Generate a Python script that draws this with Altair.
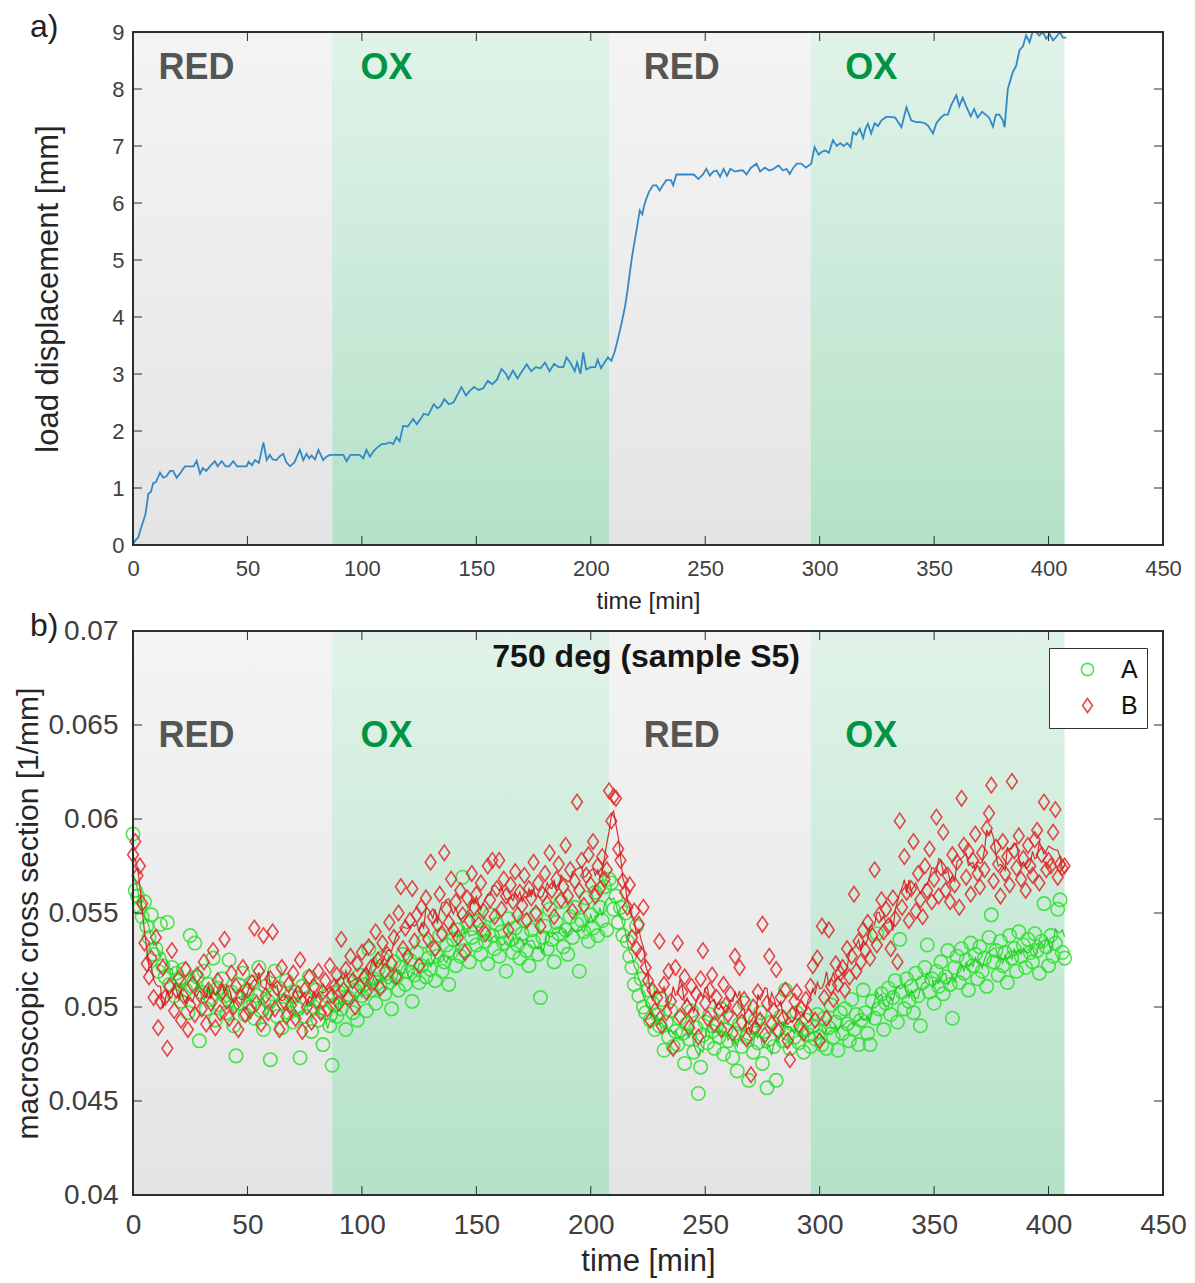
import altair as alt
import pandas as pd

# ---------------- data ----------------
band_start = [0, 87, 208, 296]
band_end = [87, 208, 296, 407]
band_kind = ["RED", "OX", "RED", "OX"]

label_text = ["RED", "OX", "RED", "OX"]
label_t = [27.7, 110.7, 239.7, 322.5]
label_top_v = [8.36, 8.36, 8.36, 8.36]
label_bot_v = [0.0644, 0.0644, 0.0644, 0.0644]

title_b = ["750 deg (sample S5)"]
title_b_t = [224.2]
title_b_v = [0.06862]

x_ticks = [0, 50, 100, 150, 200, 250, 300, 350, 400, 450]
top_y_ticks = [0, 1, 2, 3, 4, 5, 6, 7, 8, 9]
bot_y_ticks = [0.04, 0.045, 0.05, 0.055, 0.06, 0.065, 0.07]

# panel a) load displacement
disp_t = [0, 1, 2.3, 3.5, 4.5, 5.5, 6.7, 7.8, 8.9, 10, 11.8, 13.2, 14.5, 16.2, 17.5, 19.1, 21, 22.7, 25, 26.5,
          27.8, 29.3, 30.5, 32, 33.6, 35.8, 37, 38.7, 40.5, 42, 43.8, 45.5, 47.5, 49.6, 50.5, 52, 53.3, 55, 57, 58.4,
          59.8, 61, 62.7, 64, 65.6, 67, 68.6, 70.5, 72.9, 74.4, 75.8, 77, 78, 79.5, 81, 83.1, 84.5, 86, 88, 90,
          91.9, 93.3, 95, 97, 99, 100.6, 102, 103.5, 105, 106.4, 108.6, 110, 112.2, 113.7, 115.1, 116.5, 118, 120, 122.4, 124,
          125.5, 127, 129, 131.4, 133, 134.5, 136, 138, 140, 142, 143.5, 145.5, 147, 149, 151, 153, 155, 157, 159, 161,
          163, 164, 166, 168, 170, 172, 174, 176, 178, 180, 182, 184, 186, 188, 189.4, 191, 193, 194, 195.5, 196.7,
          198, 200, 202, 203, 204.5, 206, 207.5, 209, 210.5, 212, 213.5, 214.9, 216, 217, 218, 219.2, 220.3, 221.4, 222.5, 223.3,
          224.3, 225.5, 227.2, 228.7, 230.1, 231.5, 233, 235, 236, 237.4, 239, 241, 243, 245, 247, 249, 250.5, 252, 253.5, 255,
          256.5, 258, 259.5, 261, 263, 265, 266.5, 268, 270, 272.4, 274, 276, 278, 280, 282, 284, 285.5, 286.9, 288.5, 290,
          292, 294, 296.3, 297.8, 299.5, 301, 302.5, 304, 305.8, 307.5, 309, 310.5, 312, 313.5, 314.6, 316, 317.5, 319, 320, 321.1,
          322.5, 324, 325.5, 327, 329.1, 331, 333, 335.7, 337.9, 340, 342, 344, 346, 347.5, 349.5, 351, 353, 354.5, 356, 357.5,
          359.7, 361, 362.5, 364, 366, 367.5, 369, 371, 372.5, 374, 375.7, 377, 378.5, 380, 380.8, 382.2, 384.4, 385.8, 387.3, 388.8,
          390.2, 391.7, 393, 394.5, 396, 397.5, 399, 400.5, 402, 403.5, 405, 406.3, 407.8]
disp_v = [0.02, 0.08, 0.13, 0.30, 0.42, 0.55, 0.90, 0.93, 1.09, 1.10, 1.27, 1.18, 1.20, 1.30, 1.30, 1.18, 1.28, 1.38, 1.38, 1.38,
          1.48, 1.25, 1.35, 1.30, 1.38, 1.47, 1.38, 1.47, 1.38, 1.38, 1.47, 1.38, 1.38, 1.38, 1.46, 1.40, 1.49, 1.44, 1.80, 1.49,
          1.58, 1.50, 1.49, 1.55, 1.60, 1.45, 1.38, 1.45, 1.67, 1.49, 1.60, 1.52, 1.57, 1.50, 1.67, 1.49, 1.55, 1.58, 1.58, 1.58,
          1.58, 1.47, 1.58, 1.58, 1.58, 1.52, 1.67, 1.55, 1.64, 1.70, 1.77, 1.77, 1.80, 1.77, 1.89, 1.82, 2.09, 2.08, 2.21, 2.12,
          2.20, 2.30, 2.28, 2.47, 2.40, 2.44, 2.56, 2.47, 2.50, 2.65, 2.77, 2.62, 2.70, 2.77, 2.72, 2.75, 2.88, 2.82, 2.90, 3.09,
          3.00, 2.91, 3.06, 2.92, 3.05, 3.17, 3.05, 3.12, 3.10, 3.20, 3.05, 3.18, 3.12, 3.12, 3.29, 3.20, 3.05, 3.20, 3.00, 3.38,
          3.08, 3.12, 3.12, 3.25, 3.10, 3.20, 3.29, 3.23, 3.40, 3.64, 3.90, 4.17, 4.45, 4.76, 5.05, 5.34, 5.60, 5.87, 5.80, 5.95,
          6.08, 6.20, 6.31, 6.31, 6.22, 6.31, 6.40, 6.40, 6.31, 6.50, 6.50, 6.50, 6.50, 6.50, 6.42, 6.50, 6.60, 6.48, 6.55, 6.57,
          6.46, 6.60, 6.48, 6.60, 6.55, 6.57, 6.57, 6.50, 6.62, 6.69, 6.55, 6.62, 6.57, 6.60, 6.66, 6.57, 6.60, 6.51, 6.62, 6.69,
          6.69, 6.62, 6.69, 6.98, 6.85, 6.90, 6.92, 6.88, 7.10, 7.00, 7.05, 7.00, 7.05, 6.98, 7.24, 7.20, 7.30, 7.14, 7.30, 7.39,
          7.22, 7.40, 7.35, 7.45, 7.51, 7.51, 7.50, 7.33, 7.68, 7.45, 7.42, 7.42, 7.40, 7.35, 7.22, 7.40, 7.50, 7.55, 7.55, 7.72,
          7.89, 7.70, 7.85, 7.70, 7.52, 7.65, 7.50, 7.60, 7.55, 7.50, 7.34, 7.55, 7.55, 7.45, 7.33, 8.00, 8.30, 8.40, 8.68, 8.75,
          8.94, 8.82, 9.00, 9.00, 8.94, 9.00, 8.88, 8.96, 8.85, 8.92, 9.00, 8.90, 8.90]

# panel b) macroscopic cross section, one sample per minute
time_min = list(range(408))
cs_A = [0.0592, 0.0562, 0.0559, 0.0553, 0.0548, 0.0556, 0.0543, 0.0537, 0.0549, 0.0528,
        0.0531, 0.0519, 0.0544, 0.0522, 0.0516, 0.0545, 0.0512, 0.0521, 0.0506, 0.0518,
        0.0514, 0.0503, 0.0520, 0.0509, 0.0497, 0.0538, 0.0511, 0.0534, 0.0516, 0.0482,
        0.0508, 0.0519, 0.0499, 0.0512, 0.0504, 0.0526, 0.0493, 0.0510, 0.0501, 0.0515,
        0.0506, 0.0497, 0.0525, 0.0508, 0.0490, 0.0474, 0.0512, 0.0502, 0.0518, 0.0496,
        0.0509, 0.0500, 0.0513, 0.0494, 0.0506, 0.0521, 0.0498, 0.0488, 0.0511, 0.0503,
        0.0472, 0.0507, 0.0519, 0.0495, 0.0510, 0.0489, 0.0502, 0.0514, 0.0497, 0.0506,
        0.0492, 0.0508, 0.0499, 0.0473, 0.0511, 0.0495, 0.0504, 0.0516, 0.0487, 0.0500,
        0.0509, 0.0493, 0.0503, 0.0480, 0.0497, 0.0506, 0.0490, 0.0469, 0.0501, 0.0495,
        0.0508, 0.0499, 0.0512, 0.0488, 0.0505, 0.0514, 0.0497, 0.0509, 0.0493, 0.0517,
        0.0506, 0.0512, 0.0498, 0.0531, 0.0509, 0.0515, 0.0502, 0.0520, 0.0511, 0.0526,
        0.0507, 0.0518, 0.0513, 0.0499, 0.0524, 0.0516, 0.0509, 0.0521, 0.0528, 0.0512,
        0.0519, 0.0525, 0.0503, 0.0517, 0.0529, 0.0513, 0.0522, 0.0535, 0.0516, 0.0526,
        0.0520, 0.0531, 0.0514, 0.0527, 0.0538, 0.0519, 0.0524, 0.0533, 0.0512, 0.0529,
        0.0536, 0.0522, 0.0541, 0.0527, 0.0569, 0.0530, 0.0545, 0.0524, 0.0537, 0.0552,
        0.0533, 0.0546, 0.0528, 0.0541, 0.0535, 0.0523, 0.0549, 0.0538, 0.0531, 0.0544,
        0.0527, 0.0540, 0.0534, 0.0519, 0.0547, 0.0536, 0.0529, 0.0542, 0.0533, 0.0526,
        0.0539, 0.0546, 0.0530, 0.0522, 0.0541, 0.0535, 0.0549, 0.0528, 0.0505, 0.0537,
        0.0543, 0.0531, 0.0552, 0.0536, 0.0524, 0.0545, 0.0539, 0.0556, 0.0532, 0.0541,
        0.0528, 0.0548, 0.0537, 0.0553, 0.0544, 0.0519, 0.0546, 0.0540, 0.0558, 0.0535,
        0.0549, 0.0542, 0.0561, 0.0538, 0.0553, 0.0546, 0.0564, 0.0541, 0.0568, 0.0566,
        0.0552, 0.0559, 0.0545, 0.0553, 0.0538, 0.0550, 0.0535, 0.0527, 0.0521, 0.0512,
        0.0543, 0.0506, 0.0515, 0.0500, 0.0497, 0.0509, 0.0493, 0.0502, 0.0488, 0.0496,
        0.0490, 0.0504, 0.0477, 0.0492, 0.0484, 0.0498, 0.0479, 0.0487, 0.0480, 0.0494,
        0.0486, 0.0470, 0.0491, 0.0483, 0.0498, 0.0476, 0.0489, 0.0454, 0.0468, 0.0485,
        0.0492, 0.0481, 0.0496, 0.0487, 0.0478, 0.0490, 0.0484, 0.0499, 0.0475, 0.0488,
        0.0482, 0.0494, 0.0473, 0.0486, 0.0466, 0.0491, 0.0479, 0.0502, 0.0484, 0.0461,
        0.0489, 0.0476, 0.0493, 0.0481, 0.0497, 0.0470, 0.0487, 0.0457, 0.0483, 0.0492,
        0.0479, 0.0461, 0.0488, 0.0495, 0.0482, 0.0509, 0.0486, 0.0478, 0.0491, 0.0484,
        0.0497, 0.0481, 0.0488, 0.0476, 0.0493, 0.0485, 0.0479, 0.0490, 0.0483, 0.0496,
        0.0487, 0.0480, 0.0494, 0.0478, 0.0489, 0.0501, 0.0484, 0.0492, 0.0477, 0.0497,
        0.0486, 0.0499, 0.0491, 0.0482, 0.0504, 0.0488, 0.0496, 0.0480, 0.0493, 0.0509,
        0.0497, 0.0486, 0.0480, 0.0503, 0.0494, 0.0539, 0.0499, 0.0507, 0.0488, 0.0502,
        0.0510, 0.0496, 0.0505, 0.0514, 0.0492, 0.0536, 0.0508, 0.0499, 0.0515, 0.0503,
        0.0511, 0.0497, 0.0518, 0.0506, 0.0490, 0.0513, 0.0521, 0.0533, 0.0508, 0.0515,
        0.0502, 0.0519, 0.0511, 0.0524, 0.0507, 0.0516, 0.0530, 0.0512, 0.0494, 0.0521,
        0.0527, 0.0513, 0.0531, 0.0518, 0.0525, 0.0509, 0.0534, 0.0522, 0.0528, 0.0515,
        0.0532, 0.0519, 0.0526, 0.0511, 0.0537, 0.0549, 0.0524, 0.0530, 0.0517, 0.0535,
        0.0522, 0.0529, 0.0513, 0.0538, 0.0526, 0.0531, 0.0519, 0.0540, 0.0527, 0.0533,
        0.0521, 0.0536, 0.0529, 0.0524, 0.0539, 0.0530, 0.0518, 0.0535, 0.0555, 0.0532,
        0.0522, 0.0538, 0.0527, 0.0534, 0.0552, 0.0557, 0.0529, 0.0526]
cs_B = [0.0581, 0.0588, 0.0570, 0.0575, 0.0555, 0.0534, 0.0523, 0.0516, 0.0526, 0.0505,
        0.0537, 0.0489, 0.0503, 0.0521, 0.0505, 0.0478, 0.0511, 0.0530, 0.0498, 0.0509,
        0.0515, 0.0493, 0.0506, 0.0520, 0.0488, 0.0501, 0.0512, 0.0496, 0.0517, 0.0507,
        0.0499, 0.0524, 0.0491, 0.0509, 0.0502, 0.0530, 0.0489, 0.0514, 0.0497, 0.0508,
        0.0536, 0.0503, 0.0494, 0.0518, 0.0500, 0.0511, 0.0488, 0.0505, 0.0521, 0.0496,
        0.0509, 0.0498, 0.0513, 0.0542, 0.0502, 0.0519, 0.0491, 0.0538, 0.0506, 0.0497,
        0.0515, 0.0540, 0.0499, 0.0510, 0.0488, 0.0521, 0.0503, 0.0495, 0.0512, 0.0501,
        0.0518, 0.0494, 0.0507, 0.0525, 0.0487, 0.0509, 0.0500, 0.0516, 0.0492, 0.0511,
        0.0503, 0.0519, 0.0497, 0.0508, 0.0514, 0.0499, 0.0522, 0.0506, 0.0511, 0.0517,
        0.0502, 0.0536, 0.0509, 0.0520, 0.0505, 0.0527, 0.0514, 0.0500, 0.0523, 0.0511,
        0.0529, 0.0516, 0.0508, 0.0532, 0.0521, 0.0513, 0.0540, 0.0525, 0.0510, 0.0534,
        0.0519, 0.0528, 0.0545, 0.0523, 0.0537, 0.0516, 0.0550, 0.0564, 0.0531, 0.0542,
        0.0527, 0.0546, 0.0563, 0.0535, 0.0549, 0.0522, 0.0553, 0.0541, 0.0558, 0.0536,
        0.0577, 0.0548, 0.0531, 0.0544, 0.0560, 0.0539, 0.0582, 0.0552, 0.0545, 0.0568,
        0.0541, 0.0556, 0.0537, 0.0562, 0.0549, 0.0529, 0.0558, 0.0546, 0.0571, 0.0553,
        0.0560, 0.0544, 0.0566, 0.0551, 0.0539, 0.0575, 0.0557, 0.0578, 0.0548, 0.0563,
        0.0578, 0.0552, 0.0568, 0.0559, 0.0541, 0.0565, 0.0556, 0.0572, 0.0549, 0.0561,
        0.0554, 0.0570, 0.0546, 0.0563, 0.0558, 0.0577, 0.0550, 0.0566, 0.0543, 0.0560,
        0.0571, 0.0555, 0.0582, 0.0562, 0.0548, 0.0568, 0.0576, 0.0557, 0.0564, 0.0586,
        0.0559, 0.0573, 0.0551, 0.0567, 0.0609, 0.0562, 0.0578, 0.0554, 0.0570, 0.0581,
        0.0565, 0.0588, 0.0559, 0.0575, 0.0563, 0.0580, 0.0568, 0.0573, 0.0615, 0.0599,
        0.0612, 0.0611, 0.0584, 0.0578, 0.0567, 0.0561, 0.0553, 0.0565, 0.0537, 0.0551,
        0.0531, 0.0544, 0.0528, 0.0553, 0.0521, 0.0514, 0.0493, 0.0509, 0.0498, 0.0505,
        0.0535, 0.0490, 0.0512, 0.0497, 0.0519, 0.0503, 0.0478, 0.0521, 0.0534, 0.0495,
        0.0508, 0.0516, 0.0500, 0.0489, 0.0511, 0.0496, 0.0507, 0.0484, 0.0515, 0.0530,
        0.0502, 0.0494, 0.0509, 0.0517, 0.0491, 0.0505, 0.0498, 0.0488, 0.0512, 0.0501,
        0.0496, 0.0507, 0.0486, 0.0527, 0.0499, 0.0521, 0.0492, 0.0504, 0.0483, 0.0495,
        0.0464, 0.0500, 0.0489, 0.0508, 0.0493, 0.0544, 0.0485, 0.0502, 0.0527, 0.0491,
        0.0498, 0.0520, 0.0487, 0.0505, 0.0494, 0.0509, 0.0482, 0.0472, 0.0496, 0.0503,
        0.0508, 0.0490, 0.0499, 0.0486, 0.0504, 0.0496, 0.0511, 0.0522, 0.0493, 0.0526,
        0.0482, 0.0543, 0.0505, 0.0494, 0.0541, 0.0511, 0.0504, 0.0523, 0.0512, 0.0518,
        0.0521, 0.0509, 0.0531, 0.0516, 0.0527, 0.0560, 0.0519, 0.0535, 0.0524, 0.0541,
        0.0530, 0.0545, 0.0526, 0.0538, 0.0573, 0.0533, 0.0549, 0.0557, 0.0540, 0.0552,
        0.0543, 0.0531, 0.0558, 0.0547, 0.0524, 0.0599, 0.0553, 0.0580, 0.0561, 0.0546,
        0.0563, 0.0588, 0.0551, 0.0571, 0.0557, 0.0548, 0.0575, 0.0562, 0.0584, 0.0556,
        0.0568, 0.0601, 0.0559, 0.0574, 0.0593, 0.0562, 0.0570, 0.0556, 0.0581, 0.0565,
        0.0577, 0.0553, 0.0611, 0.0586, 0.0569, 0.0583, 0.0560, 0.0578, 0.0592, 0.0571,
        0.0564, 0.0582, 0.0573, 0.0595, 0.0603, 0.0618, 0.0567, 0.0585, 0.0576, 0.0559,
        0.0588, 0.0571, 0.0580, 0.0565, 0.0620, 0.0583, 0.0574, 0.0591, 0.0568, 0.0579,
        0.0562, 0.0586, 0.0575, 0.0570, 0.0589, 0.0594, 0.0566, 0.0581, 0.0609, 0.0573,
        0.0578, 0.0575, 0.0593, 0.0605, 0.0569, 0.0576, 0.0574, 0.0575]

series_names = ["A", "B"]
series_colors = ["#2ee22e", "#e22a2a"]
line_colors = ["#22c822", "#d01e1e"]

# ---------------- styling ----------------
W, H1, H2 = 1030, 513, 564
GAP = 86
TICK = 9
FONT = "Liberation Sans"
FRAME = "#2e2e2e"
TXT = "#404040"

gray_grad = alt.LinearGradient(gradient="linear", x1=0, x2=0, y1=0, y2=1,
                               stops=[alt.GradientStop(color="#f4f4f4", offset=0),
                                      alt.GradientStop(color="#e4e4e4", offset=1)])
green_grad = alt.LinearGradient(gradient="linear", x1=0, x2=0, y1=0, y2=1,
                                stops=[alt.GradientStop(color="#e1f3e9", offset=0),
                                       alt.GradientStop(color="#b4e1c8", offset=1)])

bands_df = pd.DataFrame({"start": band_start, "end": band_end, "kind": band_kind})
labels_top_df = pd.DataFrame({"text": label_text, "t": label_t, "v": label_top_v})
labels_bot_df = pd.DataFrame({"text": label_text, "t": label_t, "v": label_bot_v})
xt_df = pd.DataFrame({"tx": x_ticks})
yt_top_df = pd.DataFrame({"ty": top_y_ticks})
yt_bot_df = pd.DataFrame({"ty": bot_y_ticks})
disp_df = pd.DataFrame({"t": disp_t, "v": disp_v})
cs_df = pd.concat([
    pd.DataFrame({"t": time_min, "v": cs_A, "series": series_names[0]}),
    pd.DataFrame({"t": time_min, "v": cs_B, "series": series_names[1]}),
], ignore_index=True)
title_df = pd.DataFrame({"text": title_b, "t": title_b_t, "v": title_b_v})

xscale = alt.Scale(domain=[0, 450], nice=False, zero=False)

ax_x_top = alt.Axis(values=x_ticks, ticks=False, domain=False, grid=False, labelFlush=False,
                    labelFont=FONT, labelFontSize=22, labelColor=TXT, labelPadding=13,
                    title="time [min]", titleFont=FONT, titleFontSize=24, titleFontWeight="normal",
                    titleColor="#262626", titlePadding=10)
ax_y_top = alt.Axis(values=top_y_ticks, ticks=False, domain=False, grid=False, labelFlush=False,
                    labelFont=FONT, labelFontSize=22, labelColor=TXT, labelPadding=9,
                    title="load displacement [mm]", titleFont=FONT, titleFontSize=31,
                    titleFontWeight="normal", titleColor="#262626", titlePadding=47)
ax_x_bot = alt.Axis(values=x_ticks, ticks=False, domain=False, grid=False, labelFlush=False,
                    labelFont=FONT, labelFontSize=28, labelColor=TXT, labelPadding=16,
                    title="time [min]", titleFont=FONT, titleFontSize=31, titleFontWeight="normal",
                    titleColor="#262626", titlePadding=7)
ax_y_bot = alt.Axis(values=bot_y_ticks, format="~g", ticks=False, domain=False, grid=False,
                    labelFlush=False,
                    labelFont=FONT, labelFontSize=28, labelColor=TXT, labelPadding=15,
                    title="macroscopic cross section [1/mm]", titleFont=FONT, titleFontSize=30,
                    titleFontWeight="normal", titleColor="#262626", titlePadding=4)


def xa(field):
    return alt.X(f"{field}:Q", scale=xscale, axis=ax_x_top)


def ya(field):
    return alt.Y(f"{field}:Q", scale=alt.Scale(domain=[0, 9], nice=False, zero=False), axis=ax_y_top)


def xb(field):
    return alt.X(f"{field}:Q", scale=xscale, axis=ax_x_bot)


def yb(field):
    return alt.Y(f"{field}:Q", scale=alt.Scale(domain=[0.04, 0.07], nice=False, zero=False), axis=ax_y_bot)


def bands(xenc, H):
    red = alt.Chart(bands_df).transform_filter(alt.datum.kind == "RED").mark_rect(
        color=gray_grad).encode(x=xenc("start"), x2="end", y=alt.value(0), y2=alt.value(H))
    ox = alt.Chart(bands_df).transform_filter(alt.datum.kind == "OX").mark_rect(
        color=green_grad).encode(x=xenc("start"), x2="end", y=alt.value(0), y2=alt.value(H))
    return [red, ox]


def phase_labels(df, xenc, yenc):
    out = []
    for kind, col in (("RED", "#555555"), ("OX", "#009444")):
        out.append(alt.Chart(df).transform_filter(alt.datum.text == kind).mark_text(
            font=FONT, fontSize=36, fontWeight="bold", color=col, align="center", baseline="middle"
        ).encode(x=xenc("t"), y=yenc("v"), text="text:N"))
    return out


def frame_ticks(xenc, yenc, ydf, H):
    r = dict(color=FRAME, strokeWidth=1)
    xb_t = alt.Chart(xt_df).mark_rule(**r).encode(x=xenc("tx"), y=alt.value(H), y2=alt.value(H - TICK))
    xt_t = alt.Chart(xt_df).mark_rule(**r).encode(x=xenc("tx"), y=alt.value(0), y2=alt.value(TICK))
    yl_t = alt.Chart(ydf).mark_rule(**r).encode(y=yenc("ty"), x=alt.value(0), x2=alt.value(TICK))
    yr_t = alt.Chart(ydf).mark_rule(**r).encode(y=yenc("ty"), x=alt.value(W - TICK), x2=alt.value(W))
    box = alt.Chart(xt_df).mark_rect(filled=False, stroke=FRAME, strokeWidth=1.2).encode(
        x=alt.value(0), x2=alt.value(W), y=alt.value(0), y2=alt.value(H))
    return [xb_t, xt_t, yl_t, yr_t, box]


def tag(text):
    return alt.Chart(pd.DataFrame({"tag": [text]})).mark_text(
        font=FONT, fontSize=32, color="#222222", align="left", baseline="top"
    ).encode(x=alt.value(-103), y=alt.value(-20), text="tag:N")


# ---------------- panel a ----------------
disp_line = alt.Chart(disp_df).mark_line(color="#3389c6", strokeWidth=1.8, clip=True).encode(
    x=xa("t"), y=ya("v"), order="t:Q")

top = alt.layer(
    *bands(xa, H1), disp_line, *phase_labels(labels_top_df, xa, ya),
    *frame_ticks(xa, ya, yt_top_df, H1), tag("a)")
).properties(width=W, height=H1)

# ---------------- panel b ----------------
# legends of a concatenated chart are placed relative to the whole chart
legend = alt.Legend(orient="none", legendX=916, legendY=H1 + GAP + 17, title=None, padding=9,
                    strokeColor="#333333", fillColor="white", symbolOffset=17, labelOffset=21,
                    labelFont=FONT, labelFontSize=25, labelColor="#111111", rowPadding=10,
                    symbolSize=150, symbolStrokeWidth=1.6)
color_enc = alt.Color("series:N", scale=alt.Scale(domain=series_names, range=series_colors), legend=legend)
shape_enc = alt.Shape("series:N", scale=alt.Scale(domain=series_names,
                                                  range=["circle", "M0,-1.15L0.8,0L0,1.15L-0.8,0Z"]),
                      legend=legend)

pts = alt.Chart(cs_df).mark_point(filled=False, strokeWidth=1.6, opacity=0.85, size=180).encode(
    x=xb("t"), y=yb("v"), color=color_enc, shape=shape_enc)

lines = []
for name, col in zip(series_names, line_colors):
    lines.append(alt.Chart(cs_df).transform_filter(alt.datum.series == name).transform_window(
        ma="mean(v)", frame=[-2, 2], sort=[alt.SortField("t")]
    ).mark_line(color=col, strokeWidth=1.2, opacity=0.9).encode(x=xb("t"), y=yb("ma"), order="t:Q"))

title_txt = alt.Chart(title_df).mark_text(
    font=FONT, fontSize=32, fontWeight="bold", color="#151515", align="center", baseline="middle"
).encode(x=xb("t"), y=yb("v"), text="text:N")

bottom = alt.layer(
    *bands(xb, H2), pts, *lines, *phase_labels(labels_bot_df, xb, yb), title_txt,
    *frame_ticks(xb, yb, yt_bot_df, H2), tag("b)")
).properties(width=W, height=H2)

chart = alt.vconcat(top, bottom, spacing=GAP, bounds="flush").properties(
    padding={"left": 13, "top": 11, "right": 5, "bottom": 5}, background="white"
).configure_view(stroke=None)

chart.save("out.html", embed_options={"renderer": "svg", "actions": False})
